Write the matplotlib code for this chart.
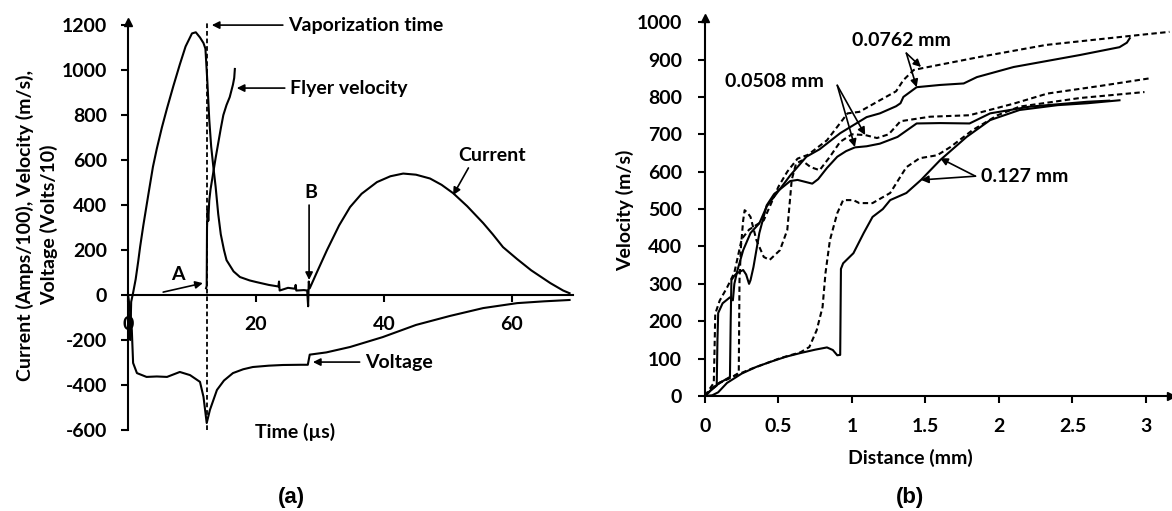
import matplotlib
matplotlib.use("Agg")
import matplotlib.pyplot as plt

plt.rcParams['font.family'] = ['Lato', 'DejaVu Sans']
plt.rcParams['font.weight'] = 'bold'
plt.rcParams['axes.unicode_minus'] = False

# ---- panel (a): current, flyer velocity, voltage vs time ----
t_cur = [0, 0.2, 0.35, 0.5, 0.8, 1.2, 1.6, 1.9, 2.4, 3.2, 3.9, 4.5, 5.3, 6.1, 7.1, 8.1, 9.0,
         10.0, 10.6, 11.25, 11.8, 12.1, 12.4, 12.7, 13.0, 13.3, 13.7, 14.1, 14.5, 15.0, 15.4,
         16.5, 17.5, 19.0, 20.0, 22.0, 23.5, 23.6, 23.7, 25.0, 26.1, 26.2, 26.3, 27.5, 28.0,
         28.15, 28.25, 28.4, 29.5, 31.1, 33.0, 34.7, 36.5, 38.9, 41.0, 43.0, 45.0, 47.2, 49.0,
         50.8, 53.0, 55.5, 57.0, 58.6, 60.8, 63.0, 66.0, 68.0, 69.0]
current = [0, -150, -200, -30, 10, 70, 150, 215, 310, 450, 570, 650, 745, 830, 930, 1025, 1105,
           1163, 1168, 1145, 1120, 1095, 950, 780, 660, 580, 480, 360, 270, 200, 155,
           105, 80, 65, 58, 45, 38, 60, 20, 32, 28, 45, 20, 22, 20,
           -50, 60, 30, 100, 200, 310, 391, 450, 502, 528, 540, 535, 518, 490,
           453, 395, 320, 270, 213, 160, 110, 53, 20, 8]

t_fly = [12.2, 12.3, 12.35, 12.45, 12.55, 12.7, 12.9, 13.3, 13.7, 14.1, 14.5, 14.9, 15.4, 15.9,
         16.4, 16.6, 16.7]
flyer = [30, 40, 300, 380, 330, 420, 470, 540, 610, 675, 740, 800, 845, 880, 935, 965, 1005]

t_volt = [0, 0.3, 0.6, 0.8, 1.4, 2.9, 4.5, 6.1, 8.1, 9.7, 11.25, 11.8, 12.3, 12.8, 13.9, 15.0,
          16.4, 18.0, 19.5, 22.0, 24.2, 27.0, 28.1, 28.4, 31.0, 34.7, 39.8, 45.0, 50.3, 55.5,
          60.8, 65.0, 69.0]
voltage = [0, -60, -156, -302, -347, -364, -362, -364, -342, -356, -386, -453, -569, -511, -422,
           -380, -347, -330, -320, -314, -311, -310, -310, -265, -255, -231, -187, -133, -93,
           -58, -36, -28, -22]

vap_time = 12.3
a_yticks = [-600, -400, -200, 0, 200, 400, 600, 800, 1000, 1200]
a_xticks = [0, 20, 40, 60]

# ---- panel (b): velocity vs distance ----
x_0508_d = [0, 0.05, 0.1, 0.19, 0.23, 0.235, 0.245, 0.26, 0.27, 0.29, 0.31, 0.35, 0.40, 0.44,
            0.51, 0.56, 0.58, 0.59, 0.62, 0.66, 0.72, 0.78, 0.85, 0.92, 1.0, 1.09, 1.17, 1.25,
            1.33, 1.53, 1.8, 2.1, 2.33, 2.7, 3.03]
v_0508_d = [0, 22, 36, 52, 62, 310, 400, 470, 497, 490, 479, 417, 372, 364,
            390, 444, 532, 578, 622, 630, 612, 604, 640, 680, 700, 698, 690, 700,
            735, 747, 751, 782, 809, 830, 850]

x_0508_s = [0, 0.05, 0.1, 0.17, 0.175, 0.18, 0.2, 0.22, 0.26, 0.28, 0.3, 0.31, 0.33, 0.37, 0.42,
            0.47, 0.53, 0.58, 0.63, 0.69, 0.73, 0.77, 0.83, 0.9, 0.96, 1.02, 1.1, 1.19, 1.31,
            1.44, 1.6, 1.8, 1.94, 2.21, 2.6, 2.75]
v_0508_s = [0, 20, 35, 51, 200, 310, 322, 329, 337, 325, 300, 310, 345, 436, 510,
            540, 559, 575, 578, 572, 568, 580, 610, 640, 655, 665, 668, 675, 693,
            729, 730, 729, 756, 774, 787, 790]

x_0762_s = [0, 0.04, 0.08, 0.085, 0.09, 0.12, 0.17, 0.19, 0.2, 0.22, 0.26, 0.31, 0.37, 0.42, 0.49,
            0.58, 0.69, 0.78, 0.92, 1.1, 1.19, 1.3, 1.33, 1.35, 1.44, 1.6, 1.76, 1.85, 2.1, 2.55,
            2.82, 2.87, 2.89]
v_0762_s = [0, 15, 28, 150, 222, 248, 264, 256, 300, 335, 390, 436, 462, 507, 543,
            590, 640, 660, 703, 746, 756, 775, 783, 800, 826, 832, 836, 853, 880, 912,
            933, 945, 957]

x_0762_d = [0, 0.03, 0.06, 0.065, 0.07, 0.1, 0.15, 0.2, 0.25, 0.3, 0.4, 0.5, 0.56, 0.63, 0.7,
            0.83, 0.97, 1.05, 1.19, 1.3, 1.35, 1.42, 1.48, 1.87, 2.32, 2.89, 3.16]
v_0762_d = [0, 18, 35, 120, 220, 255, 290, 330, 420, 445, 470, 560, 600, 635, 645,
            684, 756, 760, 791, 815, 845, 872, 877, 907, 939, 963, 974]

x_127_d = [0, 0.05, 0.1, 0.19, 0.31, 0.42, 0.51, 0.65, 0.71, 0.76, 0.8, 0.82, 0.85, 0.9, 0.94,
           1.01, 1.05, 1.14, 1.26, 1.37, 1.46, 1.58, 1.67, 1.82, 1.99, 2.14, 2.55, 2.99]
v_127_d = [0, 20, 35, 52, 72, 88, 101, 117, 131, 176, 238, 329, 417, 489, 524,
           524, 516, 516, 543, 612, 636, 644, 666, 711, 751, 774, 797, 813]

x_127_s = [0, 0.05, 0.09, 0.15, 0.25, 0.35, 0.45, 0.55, 0.65, 0.75, 0.83, 0.87, 0.9, 0.92, 0.925,
           0.94, 1.01, 1.08, 1.14, 1.21, 1.26, 1.37, 1.47, 1.6, 1.78, 1.94, 2.14, 2.4, 2.6, 2.82]
v_127_s = [0, 2, 10, 35, 60, 78, 92, 105, 115, 124, 130, 123, 109, 110, 340,
           355, 382, 436, 479, 500, 524, 543, 578, 631, 693, 738, 765, 778, 783, 791]

b_yticks = list(range(0, 1001, 100))
b_xticks = [0, 0.5, 1, 1.5, 2, 2.5, 3]
b_xlabels = ['0', '0.5', '1', '1.5', '2', '2.5', '3']

LW = 1.5
DASH = (0, (2.6, 1.6))
FS = 14
arrow_kw = dict(arrowstyle='-|>', color='black', lw=1.2, mutation_scale=11,
                shrinkA=0, shrinkB=0)

fig = plt.figure(figsize=(11.72, 5.11), dpi=100)

# ================= panel (a) =================
ax = fig.add_axes([0.1092, 0.1585, 0.3795, 0.799])
ax.plot(t_cur, current, color='black', lw=LW)
ax.plot(t_fly, flyer, color='black', lw=LW)
ax.plot(t_volt, voltage, color='black', lw=LW)
ax.axvline(vap_time, color='black', lw=1.3, ls=DASH)

ax.set_xlim(0, 69.5)
ax.set_ylim(-600, 1215)
ax.spines['top'].set_visible(False)
ax.spines['right'].set_visible(False)
ax.spines['bottom'].set_position(('data', 0))
for s in ('left', 'bottom'):
    ax.spines[s].set_linewidth(1.5)
ax.set_yticks(a_yticks)
ax.set_xticks(a_xticks)
ax.tick_params(axis='both', direction='out', length=5, width=1.5, labelsize=FS)
ax.tick_params(axis='y', pad=10)
ax.tick_params(axis='x', pad=10)
ax.plot(0, 1, marker='^', color='black', ms=6, transform=ax.get_xaxis_transform(), clip_on=False)

# annotations
ax.annotate('', xy=(13.1, 1200), xytext=(24.2, 1200), arrowprops=arrow_kw)
ax.text(25.0, 1200, 'Vaporization time', fontsize=FS, ha='left', va='center')
ax.annotate('', xy=(17.0, 920), xytext=(24.5, 920), arrowprops=arrow_kw)
ax.text(25.3, 920, 'Flyer velocity', fontsize=FS, ha='left', va='center')
ax.annotate('', xy=(28.9, -298), xytext=(36.2, -298), arrowprops=arrow_kw)
ax.text(37.0, -298, 'Voltage', fontsize=FS, ha='left', va='center')
ax.annotate('', xy=(50.8, 444), xytext=(53.2, 565), arrowprops=arrow_kw)
ax.text(56.9, 622, 'Current', fontsize=FS, ha='center', va='center')
ax.annotate('', xy=(28.3, 67), xytext=(28.3, 400), arrowprops=arrow_kw)
ax.text(28.6, 458, 'B', fontsize=FS, ha='center', va='center')
ax.annotate('', xy=(11.7, 53), xytext=(5.5, 13), arrowprops=arrow_kw)
ax.text(7.8, 92, 'A', fontsize=FS, ha='center', va='center')

fig.text(37 / 1172, 1 - 225 / 511, 'Current (Amps/100), Velocity (m/s),\nVoltage (Volts/10)',
         rotation=90, ha='center', va='center', fontsize=FS, linespacing=1.35,
         multialignment='center')
fig.text(295 / 1172, 1 - 432 / 511, 'Time (µs)', ha='center', va='center', fontsize=FS)
fig.text(291 / 1172, 1 - 497 / 511, '(a)', ha='center', va='center', fontsize=16,
         family='Liberation Sans', weight='bold')

# ================= panel (b) =================
bx = fig.add_axes([0.6015, 0.225, 0.3976, 0.739])
bx.plot(x_0508_s, v_0508_s, color='black', lw=LW)
bx.plot(x_0508_d, v_0508_d, color='black', lw=LW, ls=DASH)
bx.plot(x_0762_s, v_0762_s, color='black', lw=LW)
bx.plot(x_0762_d, v_0762_d, color='black', lw=LW, ls=DASH)
bx.plot(x_127_s, v_127_s, color='black', lw=LW)
bx.plot(x_127_d, v_127_d, color='black', lw=LW, ls=DASH)

bx.set_xlim(0, 3.17)
bx.set_ylim(0, 1010)
bx.spines['top'].set_visible(False)
bx.spines['right'].set_visible(False)
for s in ('left', 'bottom'):
    bx.spines[s].set_linewidth(1.5)
bx.set_yticks(b_yticks)
bx.set_xticks(b_xticks)
bx.set_xticklabels(b_xlabels)
bx.tick_params(axis='both', direction='out', length=5, width=1.5, labelsize=FS)
bx.tick_params(axis='y', pad=11.5)
bx.tick_params(axis='x', pad=11)
bx.plot(0, 1, marker='^', color='black', ms=6, transform=bx.get_xaxis_transform(), clip_on=False)
bx.plot(1, 0, marker='>', color='black', ms=6, transform=bx.get_yaxis_transform(), clip_on=False)

bx.text(0.476, 840, '0.0508 mm', fontsize=FS, ha='center', va='center')
bx.annotate('', xy=(1.02, 666), xytext=(0.9, 831), arrowprops=arrow_kw)
bx.annotate('', xy=(1.09, 698), xytext=(0.9, 831), arrowprops=arrow_kw)
bx.text(1.34, 952, '0.0762 mm', fontsize=FS, ha='center', va='center')
bx.annotate('', xy=(1.44, 826), xytext=(1.37, 917), arrowprops=arrow_kw)
bx.annotate('', xy=(1.47, 880), xytext=(1.37, 917), arrowprops=arrow_kw)
bx.text(1.88, 586, '0.127 mm', fontsize=FS, ha='left', va='center')
bx.annotate('', xy=(1.6, 636), xytext=(1.84, 588), arrowprops=arrow_kw)
bx.annotate('', xy=(1.47, 578), xytext=(1.84, 588), arrowprops=arrow_kw)

fig.text(625 / 1172, 1 - 210 / 511, 'Velocity (m/s)', rotation=90, ha='center', va='center',
         fontsize=FS)
fig.text(910 / 1172, 1 - 458 / 511, 'Distance (mm)', ha='center', va='center', fontsize=FS)
fig.text(910 / 1172, 1 - 497 / 511, '(b)', ha='center', va='center', fontsize=16,
         family='Liberation Sans', weight='bold')

fig.savefig('out.png', dpi=100)
